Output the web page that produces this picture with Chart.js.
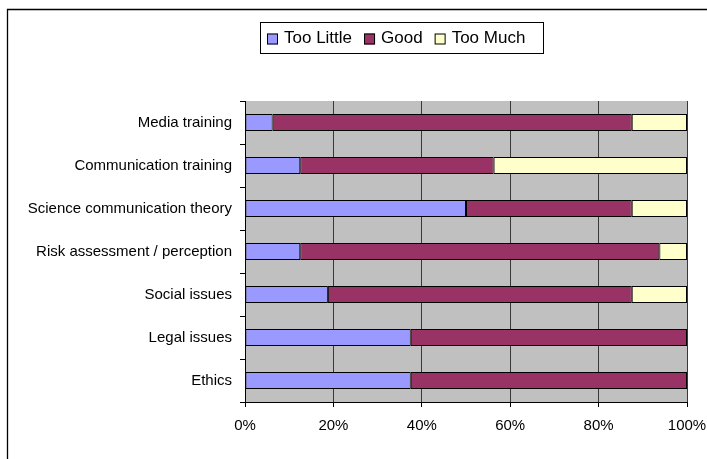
<!DOCTYPE html>
<html>
<head>
<meta charset="utf-8">
<script src="https://cdn.jsdelivr.net/npm/chart.js@4/dist/chart.umd.min.js"></script>
<style>
  html, body { margin: 0; padding: 0; background: #fff; }
  #wrap { width: 707px; height: 459px; }
</style>
</head>
<body>
<div id="wrap"><canvas id="chart" width="707" height="459"></canvas></div>
<script>
const topics = [
  'Media training',
  'Communication training',
  'Science communication theory',
  'Risk assessment / perception',
  'Social issues',
  'Legal issues',
  'Ethics'
];
const tooLittle = [6.25, 12.5, 50, 12.5, 18.75, 37.5, 37.5];
const good = [81.25, 43.75, 37.5, 81.25, 68.75, 62.5, 62.5];
const tooMuch = [12.5, 43.75, 12.5, 6.25, 12.5, 0, 0];
const percentTicks = [0, 20, 40, 60, 80, 100];

const FONT = 'Liberation Sans, Arial, sans-serif';

// grey plot background plus the frame line at top and left
const backdrop = {
  id: 'backdrop',
  beforeDraw(chart) {
    const { ctx, chartArea: a } = chart;
    ctx.save();
    ctx.fillStyle = '#c0c0c0';
    ctx.fillRect(a.left, a.top, a.right - a.left, a.bottom - a.top);
    ctx.strokeStyle = '#000';
    ctx.lineWidth = 1.3;
    ctx.beginPath();
    ctx.moveTo(7.5, 459);
    ctx.lineTo(7.5, 9.5);
    ctx.lineTo(707, 9.5);
    ctx.stroke();
    ctx.restore();
  }
};

// boxed legend above the plot
const boxLegend = {
  id: 'boxLegend',
  afterDraw(chart) {
    const ctx = chart.ctx;
    const x0 = 260, y0 = 22, w = 283, h = 31;
    ctx.save();
    ctx.fillStyle = '#fff';
    ctx.fillRect(x0, y0, w, h);
    ctx.strokeStyle = '#000';
    ctx.lineWidth = 1;
    ctx.strokeRect(x0 + 0.5, y0 + 0.5, w, h);
    ctx.font = '17px ' + FONT;
    ctx.textBaseline = 'middle';
    let x = x0 + 7;
    const cy = y0 + h / 2 + 1;
    chart.data.datasets.forEach(ds => {
      ctx.fillStyle = ds.backgroundColor;
      ctx.fillRect(x, cy - 5, 11, 11);
      ctx.strokeStyle = '#000';
      ctx.strokeRect(x + 0.5, cy - 4.5, 10, 10);
      ctx.fillStyle = '#000';
      ctx.fillText(ds.label, x + 17, cy);
      x += 17 + ctx.measureText(ds.label).width + 12;
    });
    ctx.restore();
  }
};

const barStyle = {
  borderColor: '#000',
  borderWidth: 1,
  borderSkipped: false,
  categoryPercentage: 1,
  barPercentage: 0.4
};

new Chart(document.getElementById('chart'), {
  type: 'bar',
  data: {
    labels: topics,
    datasets: [
      { label: 'Too Little', data: tooLittle, backgroundColor: '#9999ff', ...barStyle },
      { label: 'Good', data: good, backgroundColor: '#993366', ...barStyle },
      { label: 'Too Much', data: tooMuch, backgroundColor: '#ffffcc', ...barStyle }
    ]
  },
  options: {
    indexAxis: 'y',
    responsive: false,
    animation: false,
    layout: { padding: { top: 101, right: 20, left: 0, bottom: 0 } },
    plugins: { legend: { display: false }, tooltip: { enabled: false } },
    scales: {
      x: {
        stacked: true,
        min: 0,
        max: 100,
        afterBuildTicks(scale) {
          scale.ticks = percentTicks.map(v => ({ value: v }));
        },
        afterFit(scale) {
          scale.height = 57;
          scale.paddingLeft = 0;
          scale.paddingRight = 0;
        },
        ticks: {
          callback: v => v + '%',
          color: '#000',
          font: { family: FONT, size: 15 },
          padding: 10,
          maxRotation: 0
        },
        grid: { color: '#383838', lineWidth: 1, tickLength: 5, tickColor: '#000' },
        border: { display: true, color: '#000', width: 1 }
      },
      y: {
        stacked: true,
        afterFit(scale) { scale.width = 245; },
        ticks: {
          color: '#000',
          font: { family: FONT, size: 15 },
          padding: 8
        },
        grid: { offset: true, drawOnChartArea: false, tickLength: 5, color: '#000' },
        border: { display: true, color: '#000', width: 1 }
      }
    }
  },
  plugins: [backdrop, boxLegend]
});
</script>
</body>
</html>
